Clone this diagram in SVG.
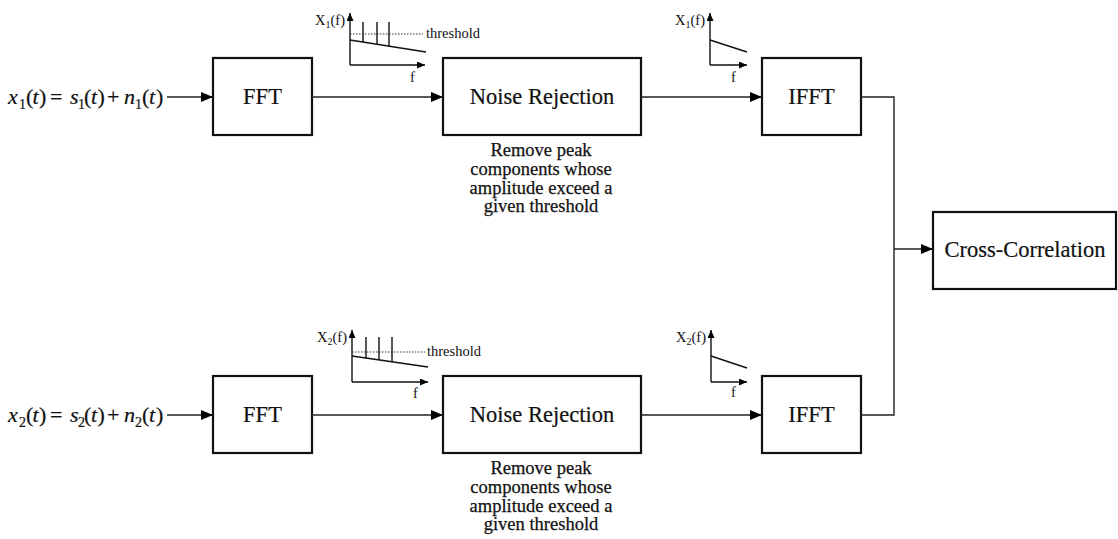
<svg xmlns="http://www.w3.org/2000/svg" width="1118" height="539" viewBox="0 0 1118 539">
  <defs>
    <marker id="arrow" viewBox="0 0 12 10" refX="12" refY="5" markerWidth="12" markerHeight="10" markerUnits="userSpaceOnUse" orient="auto">
      <path d="M0,0 L12,5 L0,10 Z" fill="#000"/>
    </marker>
    <marker id="axis" viewBox="0 0 8 7" refX="8" refY="3.5" markerWidth="8" markerHeight="7" markerUnits="userSpaceOnUse" orient="auto">
      <path d="M0,0 L8,3.5 L0,7 Z" fill="#000"/>
    </marker>
  </defs>
  <style>
    text { font-family: 'Liberation Serif', 'Times New Roman', Times, serif; fill: #111; }
    .box { fill: #fff; stroke: #111; stroke-width: 2.2; }
    .lbl { font-size: 22.5px; text-anchor: middle; stroke: #111; stroke-width: 0.2; }
    .note { font-size: 18.5px; text-anchor: middle; stroke: #111; stroke-width: 0.25; }
    .eq { font-size: 22px; stroke: #111; stroke-width: 0.2; }
    .eq .v { font-style: italic; }
    .eq .s { font-size: 14px; }
    .small { font-size: 14.5px; }
    .small .s { font-size: 10px; }
    .wire { fill: none; stroke: #222; stroke-width: 1.4; }
    .ax { fill: none; stroke: #111; stroke-width: 1.4; }
    .dot { fill: none; stroke: #333; stroke-width: 1.2; stroke-dasharray: 1.5 1.5; }
  </style>

  <rect width="1118" height="539" fill="#fff"/>

  <!-- input signals -->
  <g id="input1">
    <text class="eq"><tspan class="v" x="8" y="104">x</tspan><tspan class="s" x="19" y="109">1</tspan><tspan x="26" y="104">(</tspan><tspan class="v" x="32.5" y="104">t</tspan><tspan x="39" y="104">)</tspan><tspan x="50" y="104">=</tspan><tspan class="v" x="70" y="104">s</tspan><tspan class="s" x="78" y="109">1</tspan><tspan x="84" y="104">(</tspan><tspan class="v" x="91" y="104">t</tspan><tspan x="97.5" y="104">)</tspan><tspan x="107" y="104">+</tspan><tspan class="v" x="124" y="104">n</tspan><tspan class="s" x="135" y="109">1</tspan><tspan x="142" y="104">(</tspan><tspan class="v" x="149" y="104">t</tspan><tspan x="156" y="104">)</tspan></text>
  </g>
  <g id="input2">
    <text class="eq"><tspan class="v" x="8" y="422">x</tspan><tspan class="s" x="19" y="427">2</tspan><tspan x="26" y="422">(</tspan><tspan class="v" x="32.5" y="422">t</tspan><tspan x="39" y="422">)</tspan><tspan x="50" y="422">=</tspan><tspan class="v" x="70" y="422">s</tspan><tspan class="s" x="78" y="427">2</tspan><tspan x="84" y="422">(</tspan><tspan class="v" x="91" y="422">t</tspan><tspan x="97.5" y="422">)</tspan><tspan x="107" y="422">+</tspan><tspan class="v" x="124" y="422">n</tspan><tspan class="s" x="135" y="427">2</tspan><tspan x="142" y="422">(</tspan><tspan class="v" x="149" y="422">t</tspan><tspan x="156" y="422">)</tspan></text>
  </g>

  <!-- processing blocks, upper chain -->
  <g id="fft1">
    <rect class="box" x="213" y="58" width="99" height="77"/>
    <text class="lbl" x="262.5" y="104">FFT</text>
  </g>
  <g id="noise1">
    <rect class="box" x="443" y="58" width="198" height="77"/>
    <text class="lbl" x="542" y="104">Noise Rejection</text>
    <text class="note" x="541" y="156">Remove peak</text>
    <text class="note" x="541" y="175">components whose</text>
    <text class="note" x="541" y="194">amplitude exceed a</text>
    <text class="note" x="541" y="212">given threshold</text>
  </g>
  <g id="ifft1">
    <rect class="box" x="762" y="58" width="99" height="77"/>
    <text class="lbl" x="811.5" y="104">IFFT</text>
  </g>

  <!-- processing blocks, lower chain -->
  <g id="fft2">
    <rect class="box" x="213" y="376" width="99" height="77"/>
    <text class="lbl" x="262.5" y="422">FFT</text>
  </g>
  <g id="noise2">
    <rect class="box" x="443" y="376" width="198" height="77"/>
    <text class="lbl" x="542" y="422">Noise Rejection</text>
    <text class="note" x="541" y="474">Remove peak</text>
    <text class="note" x="541" y="493">components whose</text>
    <text class="note" x="541" y="512">amplitude exceed a</text>
    <text class="note" x="541" y="530">given threshold</text>
  </g>
  <g id="ifft2">
    <rect class="box" x="762" y="376" width="99" height="77"/>
    <text class="lbl" x="811.5" y="422">IFFT</text>
  </g>

  <g id="xcorr">
    <rect class="box" x="933" y="212" width="183" height="77"/>
    <text class="lbl" x="1025" y="257">Cross-Correlation</text>
  </g>

  <!-- spectrum sketches -->
  <g id="spectrum1">
    <line class="ax" x1="350" y1="65" x2="350" y2="13" marker-end="url(#axis)"/>
    <line class="ax" x1="350" y1="65" x2="425" y2="65" marker-end="url(#axis)"/>
    <line class="dot" x1="350" y1="34" x2="423" y2="34"/>
    <line class="ax" x1="350" y1="40" x2="426" y2="52"/>
    <line class="ax" x1="363" y1="22" x2="363" y2="42"/>
    <line class="ax" x1="377" y1="22" x2="377" y2="44.3"/>
    <line class="ax" x1="389" y1="22" x2="389" y2="46.2"/>
    <text class="small"><tspan x="315" y="25">X</tspan><tspan class="s" y="28">1</tspan><tspan y="25">(f)</tspan></text>
    <text class="small" x="426" y="38">threshold</text>
    <text class="small" x="410" y="82">f</text>
  </g>
  <g id="spectrum2">
    <line class="ax" x1="710" y1="65" x2="710" y2="13" marker-end="url(#axis)"/>
    <line class="ax" x1="710" y1="65" x2="747" y2="65" marker-end="url(#axis)"/>
    <line class="ax" x1="710" y1="40" x2="747" y2="52"/>
    <text class="small"><tspan x="675" y="25">X</tspan><tspan class="s" y="28">1</tspan><tspan y="25">(f)</tspan></text>
    <text class="small" x="731" y="82">f</text>
  </g>
  <g id="spectrum3">
    <line class="ax" x1="352" y1="382" x2="352" y2="330" marker-end="url(#axis)"/>
    <line class="ax" x1="352" y1="382" x2="428" y2="382" marker-end="url(#axis)"/>
    <line class="dot" x1="352" y1="352" x2="425" y2="352"/>
    <line class="ax" x1="352" y1="356" x2="428" y2="367"/>
    <line class="ax" x1="366" y1="337" x2="366" y2="358"/>
    <line class="ax" x1="379" y1="337" x2="379" y2="359.9"/>
    <line class="ax" x1="392" y1="337" x2="392" y2="361.8"/>
    <text class="small"><tspan x="317" y="342">X</tspan><tspan class="s" y="345">2</tspan><tspan y="342">(f)</tspan></text>
    <text class="small" x="427" y="356">threshold</text>
    <text class="small" x="413" y="398">f</text>
  </g>
  <g id="spectrum4">
    <line class="ax" x1="711" y1="382" x2="711" y2="330" marker-end="url(#axis)"/>
    <line class="ax" x1="711" y1="382" x2="747" y2="382" marker-end="url(#axis)"/>
    <line class="ax" x1="711" y1="356" x2="747" y2="368"/>
    <text class="small"><tspan x="676" y="342">X</tspan><tspan class="s" y="345">2</tspan><tspan y="342">(f)</tspan></text>
    <text class="small" x="731" y="397">f</text>
  </g>

  <!-- signal flow -->
  <g id="connectors">
    <line class="wire" x1="167" y1="97" x2="213" y2="97" marker-end="url(#arrow)"/>
    <line class="wire" x1="312" y1="97" x2="443" y2="97" marker-end="url(#arrow)"/>
    <line class="wire" x1="641" y1="97" x2="762" y2="97" marker-end="url(#arrow)"/>
    <line class="wire" x1="167" y1="415" x2="213" y2="415" marker-end="url(#arrow)"/>
    <line class="wire" x1="312" y1="415" x2="443" y2="415" marker-end="url(#arrow)"/>
    <line class="wire" x1="641" y1="415" x2="762" y2="415" marker-end="url(#arrow)"/>
    <polyline class="wire" points="861,97 894,97 894,415 861,415"/>
    <line class="wire" x1="894" y1="249" x2="933" y2="249" marker-end="url(#arrow)"/>
  </g>
</svg>
